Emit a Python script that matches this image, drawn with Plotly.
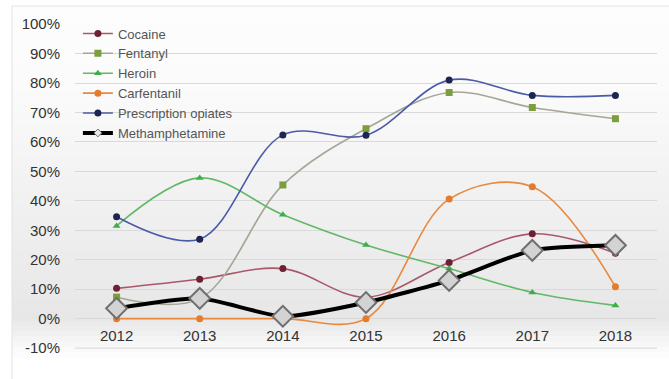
import plotly.graph_objects as go

# Share of samples testing positive, by year
years = [2012, 2013, 2014, 2015, 2016, 2017, 2018]
cocaine = [10.3, 13.4, 17.0, 7.3, 19.1, 28.8, 22.2]
fentanyl = [7.3, 6.8, 45.4, 64.5, 76.8, 71.7, 67.9]
heroin = [31.5, 47.8, 35.3, 25.0, 17.0, 8.9, 4.5]
carfentanil = [0.0, 0.0, 0.0, 0.0, 40.6, 44.8, 10.8]
prescription = [34.6, 27.0, 62.4, 62.3, 81.0, 75.8, 75.8]
meth = [3.5, 6.9, 0.8, 5.5, 13.0, 23.2, 24.9]

y_ticks = list(range(-10, 101, 10))
y_labels = [f"{v}%" for v in y_ticks]

series = [
    ("Cocaine", cocaine, "#a8586a", "#6e1f34", "circle", 7),
    ("Fentanyl", fentanyl, "#a6a596", "#7c9e3c", "square", 7),
    ("Heroin", heroin, "#63b867", "#3fae4a", "triangle-up", 7),
    ("Carfentanil", carfentanil, "#e8893e", "#e57b2c", "circle", 7),
    ("Prescription opiates", prescription, "#4a5ba8", "#1c2650", "circle", 7),
]

fig = go.Figure()

H, W = 379, 669
PLOT_L, PLOT_R, PLOT_T, PLOT_B = 75, 657, 24, 349
PW, PH = PLOT_R - PLOT_L, PLOT_B - PLOT_T


def px_x(x):
    return (x - PLOT_L) / PW


def px_y(y):
    return (PLOT_B - y) / PH


# soft vertical gradient behind everything
def band_color(t):
    # t: 0 at top of figure, 1 at bottom
    stops = [(0.0, 253), (0.22, 251), (0.42, 244), (0.65, 237), (0.84, 231),
             (0.9, 245), (0.95, 255), (1.0, 255)]
    for (a, ca), (b, cb) in zip(stops, stops[1:]):
        if a <= t <= b:
            return int(round(ca + (cb - ca) * (t - a) / (b - a)))
    return 255


n_bands = 70
top_px = 6
for i in range(n_bands):
    y0 = top_px + (H - top_px) * i / n_bands
    y1 = top_px + (H - top_px) * (i + 1) / n_bands
    c = band_color((y0 + y1) / 2 / H)
    fig.add_shape(type="rect", xref="paper", yref="paper",
                  x0=px_x(12), x1=px_x(W), y0=px_y(y1 + 0.5), y1=px_y(y0),
                  fillcolor=f"rgb({c},{c},{c})", line_width=0, layer="below")

# frame lines
fig.add_shape(type="line", xref="paper", yref="paper",
              x0=px_x(12), x1=px_x(W), y0=px_y(6), y1=px_y(6),
              line=dict(color="#e2e2e2", width=1), layer="below")
fig.add_shape(type="line", xref="paper", yref="paper",
              x0=px_x(12), x1=px_x(12), y0=px_y(6), y1=px_y(H),
              line=dict(color="#e2e2e2", width=1), layer="below")

# bottom gridline at the axis minimum
fig.add_shape(type="line", xref="paper", yref="y", x0=0, x1=1,
              y0=y_ticks[0], y1=y_ticks[0],
              line=dict(color="#d6d6d6", width=1), layer="above")

for name, vals, lc, mc, sym, ms in series:
    fig.add_trace(go.Scatter(
        x=years, y=vals, name=name, mode="lines+markers",
        line=dict(color=lc, width=1.6, shape="spline", smoothing=1.0),
        marker=dict(symbol=sym, size=ms, color=mc, line=dict(width=0)),
    ))

meth_line = dict(color="#000000", width=4, shape="spline", smoothing=0.6)
fig.add_trace(go.Scatter(
    x=years, y=meth, name="Methamphetamine", mode="lines+markers",
    line=meth_line, legendgroup="meth", showlegend=False,
    marker=dict(symbol="diamond", size=16, color="#d3d3d3",
                line=dict(color="#6f6f6f", width=2)),
))
# legend entry with a small marker, as in the key
fig.add_trace(go.Scatter(
    x=[None], y=[None], name="Methamphetamine", mode="lines+markers",
    line=meth_line, legendgroup="meth",
    marker=dict(symbol="diamond", size=6, color="#e8e8e8",
                line=dict(color="#6f6f6f", width=1)),
))

fig.update_layout(
    width=W, height=H,
    margin=dict(l=PLOT_L, r=W - PLOT_R, t=PLOT_T, b=H - PLOT_B),
    paper_bgcolor="rgba(0,0,0,0)",
    plot_bgcolor="rgba(0,0,0,0)",
    font=dict(family="Liberation Sans, Arial, sans-serif", color="#333333", size=14),
    showlegend=True,
    legend=dict(x=0.005, y=1.017, xanchor="left", yanchor="top",
                bgcolor="rgba(0,0,0,0)", font=dict(size=13, color="#555555"),
                tracegroupgap=0, itemwidth=30),
    xaxis=dict(range=[2011.5, 2018.5], tickmode="array", tickvals=years,
               ticktext=[str(y) for y in years],
               anchor="free", position=px_y(325),
               showgrid=False, zeroline=False, showline=False, ticks="",
               tickfont=dict(size=15, color="#333333")),
    yaxis=dict(range=[-10.3, 100.05], tickmode="array", tickvals=y_ticks, ticktext=y_labels,
               showgrid=True, gridcolor="#d9d9d9", gridwidth=1, zeroline=False,
               showline=False, ticks="", ticklabelstandoff=14,
               tickfont=dict(size=15, color="#333333")),
)

fig.write_html("out.html")
